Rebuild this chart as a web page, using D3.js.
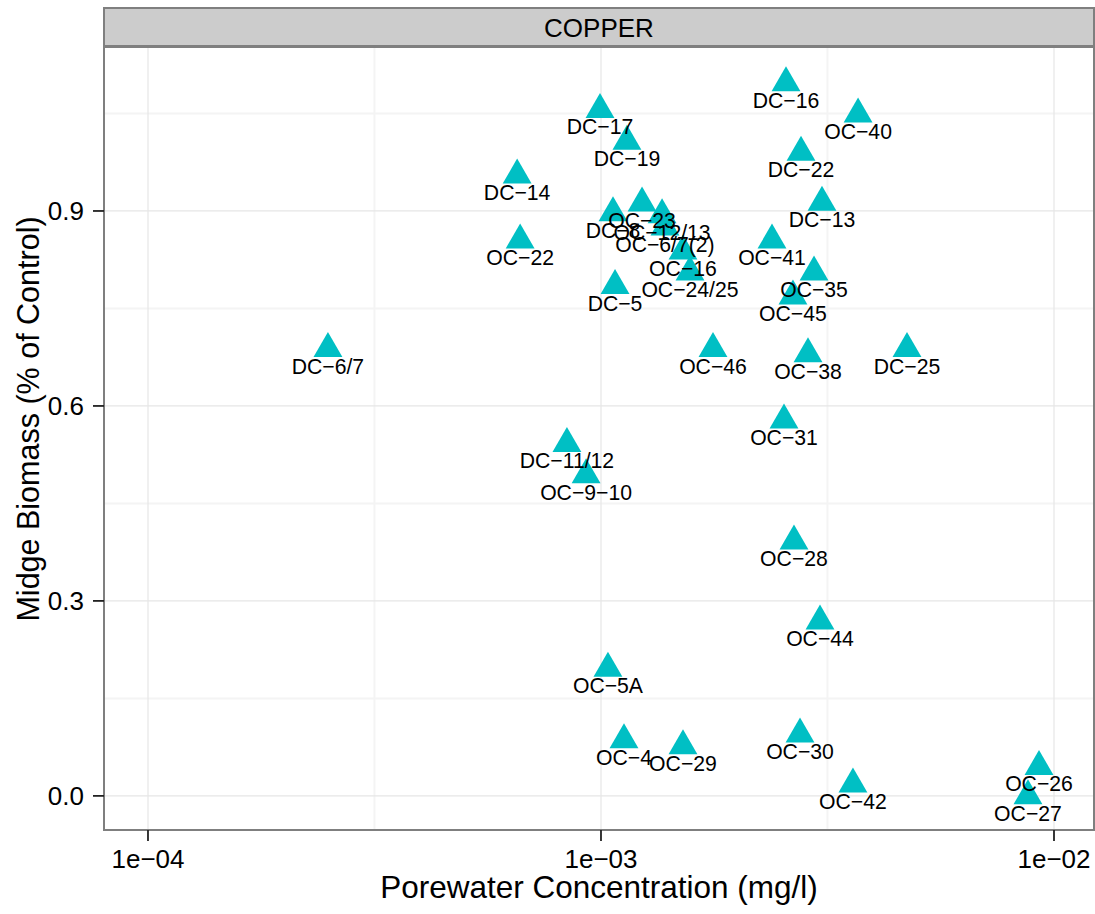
<!DOCTYPE html>
<html>
<head>
<meta charset="utf-8">
<script src="https://cdn.jsdelivr.net/npm/d3@7"></script>
<style>
  html, body { margin: 0; padding: 0; background: #ffffff; }
  svg { display: block; font-family: "Liberation Sans", Arial, Helvetica, sans-serif; }
</style>
</head>
<body>
<svg id="chart" width="1095" height="914"></svg>
<script>
// ---- data ----
const sites = ["DC−16","OC−40","DC−17","DC−19","DC−22","DC−14","DC−13","DC−8","OC−23","OC−12/13",
  "OC−6/7(2)","OC−16","OC−24/25","OC−22","OC−41","OC−35","OC−45","DC−5","DC−6/7","OC−46",
  "OC−38","DC−25","OC−31","DC−11/12","OC−9−10","OC−28","OC−44","OC−5A","OC−4","OC−29",
  "OC−30","OC−42","OC−26","OC−27"];
const concentration = [0.002561,0.003694,0.000995,0.001141,0.002764,0.000653,0.003075,0.001063,0.001232,0.001364,
  0.001384,0.001517,0.001572,0.000663,0.002385,0.002953,0.002653,0.001074,0.0002496,0.001767,
  0.002864,0.004737,0.002535,0.000841,0.000927,0.002667,0.003044,0.001036,0.001124,0.001517,
  0.002750,0.003599,0.009266,0.008761];
const biomass = [1.097,1.049,1.056,1.007,0.990,0.955,0.913,0.897,0.912,0.894,
  0.875,0.838,0.806,0.855,0.855,0.806,0.769,0.785,0.688,0.688,
  0.680,0.688,0.578,0.542,0.494,0.392,0.269,0.196,0.086,0.077,
  0.095,0.018,0.045,0.000];
const xTicks = [1e-4, 1e-3, 1e-2];
const xTickLabels = ["1e−04", "1e−03", "1e−02"];
const xMinor = [Math.pow(10, -3.5), Math.pow(10, -2.5)];
const yTicks = [0.0, 0.3, 0.6, 0.9];
const yTickLabels = ["0.0", "0.3", "0.6", "0.9"];
const yMinor = [0.15, 0.45, 0.75, 1.05];
const panelTitle = "COPPER";
const xTitle = "Porewater Concentration (mg/l)";
const yTitle = "Midge Biomass (% of Control)";

// ---- layout ----
const P = { left: 104, right: 1094, top: 47, bottom: 830 };
const stripTop = 8;
const svg = d3.select("#chart");

const x = d3.scaleLog().domain([Math.pow(10, -4.0971), Math.pow(10, -1.9117)]).range([P.left, P.right]);
const y = d3.scaleLinear().domain([-0.0525, 1.1523]).range([P.bottom, P.top]);

// panel background
svg.append("rect").attr("x", P.left).attr("y", P.top)
  .attr("width", P.right - P.left).attr("height", P.bottom - P.top).attr("fill", "#ffffff");

// minor grid
const grid = svg.append("g");
grid.selectAll(".ymin").data(yMinor).join("line")
  .attr("x1", P.left).attr("x2", P.right).attr("y1", d => y(d)).attr("y2", d => y(d))
  .attr("stroke", "#f4f4f4").attr("stroke-width", 2);
grid.selectAll(".xmin").data(xMinor).join("line")
  .attr("y1", P.top).attr("y2", P.bottom).attr("x1", d => x(d)).attr("x2", d => x(d))
  .attr("stroke", "#f4f4f4").attr("stroke-width", 2);
// major grid
grid.selectAll(".ymaj").data(yTicks).join("line")
  .attr("x1", P.left).attr("x2", P.right).attr("y1", d => y(d)).attr("y2", d => y(d))
  .attr("stroke", "#e6e6e6").attr("stroke-width", 1.2);
grid.selectAll(".xmaj").data(xTicks).join("line")
  .attr("y1", P.top).attr("y2", P.bottom).attr("x1", d => x(d)).attr("x2", d => x(d))
  .attr("stroke", "#e6e6e6").attr("stroke-width", 1.2);

// points
svg.append("g").selectAll("path").data(sites).join("path")
  .attr("d", d3.symbol().type(d3.symbolTriangle).size(361))
  .attr("transform", (d, i) => `translate(${x(concentration[i])},${y(biomass[i])})`)
  .attr("fill", "#00BFC4");

// labels
svg.append("g").selectAll("text").data(sites).join("text")
  .attr("x", (d, i) => x(concentration[i]))
  .attr("y", (d, i) => y(biomass[i]) + 24.8)
  .attr("text-anchor", "middle")
  .attr("font-size", 21.2)
  .attr("fill", "#000000")
  .text(d => d);

// panel border
svg.append("rect").attr("x", P.left).attr("y", P.top)
  .attr("width", P.right - P.left).attr("height", P.bottom - P.top)
  .attr("fill", "none").attr("stroke", "#7f7f7f").attr("stroke-width", 2);

// strip
svg.append("rect").attr("x", P.left).attr("y", stripTop)
  .attr("width", P.right - P.left).attr("height", 38)
  .attr("fill", "#cccccc").attr("stroke", "#7f7f7f").attr("stroke-width", 2);
svg.append("text").attr("x", (P.left + P.right) / 2).attr("y", 36.5)
  .attr("text-anchor", "middle").attr("font-size", 26).attr("fill", "#000")
  .text(panelTitle);

// y axis ticks & labels
const yAx = svg.append("g");
yAx.selectAll("line").data(yTicks).join("line")
  .attr("x1", P.left - 11).attr("x2", P.left).attr("y1", d => y(d)).attr("y2", d => y(d))
  .attr("stroke", "#222").attr("stroke-width", 1.8);
yAx.selectAll("text").data(yTicks).join("text")
  .attr("x", P.left - 20).attr("y", d => y(d) + 9.3)
  .attr("text-anchor", "end").attr("font-size", 26).attr("fill", "#000")
  .text((d, i) => yTickLabels[i]);

// x axis ticks & labels
const xAx = svg.append("g");
xAx.selectAll("line").data(xTicks).join("line")
  .attr("y1", P.bottom).attr("y2", P.bottom + 11).attr("x1", d => x(d)).attr("x2", d => x(d))
  .attr("stroke", "#222").attr("stroke-width", 1.8);
xAx.selectAll("text").data(xTicks).join("text")
  .attr("x", d => x(d)).attr("y", 868)
  .attr("text-anchor", "middle").attr("font-size", 26).attr("fill", "#000")
  .text((d, i) => xTickLabels[i]);

// axis titles
svg.append("text").attr("x", (P.left + P.right) / 2).attr("y", 898)
  .attr("text-anchor", "middle").attr("font-size", 31.5).attr("fill", "#000")
  .text(xTitle);
svg.append("text")
  .attr("transform", `translate(39,${(stripTop + P.bottom) / 2}) rotate(-90)`)
  .attr("text-anchor", "middle").attr("font-size", 30.5).attr("fill", "#000")
  .text(yTitle);
</script>
</body>
</html>
